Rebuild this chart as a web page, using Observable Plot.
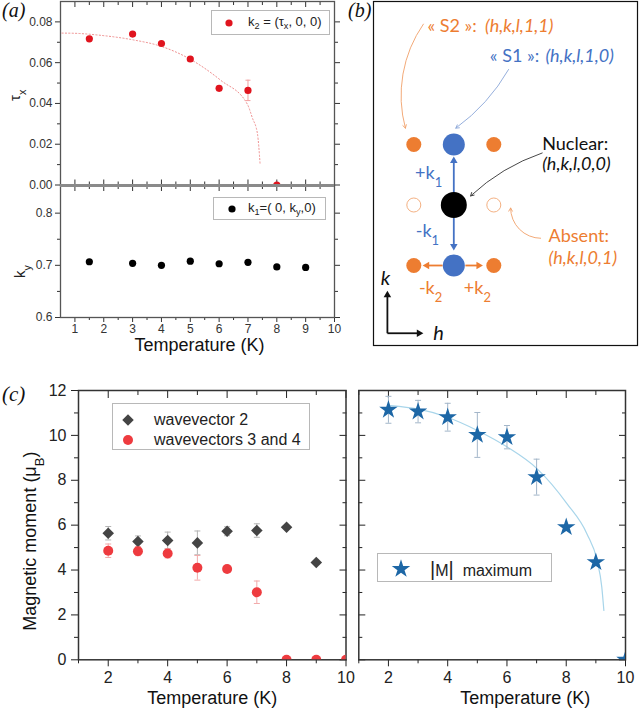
<!DOCTYPE html>
<html><head><meta charset="utf-8">
<script src="https://cdn.jsdelivr.net/npm/d3@7"></script>
<script src="https://cdn.jsdelivr.net/npm/@observablehq/plot@0.6"></script>
<style>
body{margin:0;background:#fff;}
#fig{position:relative;width:640px;height:714px;overflow:hidden;font-family:"Liberation Sans",Arial,sans-serif;color:#222;}
.panel{position:absolute;line-height:0;}
.plab{position:absolute;font-family:"Liberation Serif","Times New Roman",serif;font-style:italic;font-size:20px;line-height:1;color:#111;}
.legend{position:absolute;background:#fff;border:1px solid #b8b8b8;box-sizing:border-box;}
.legend .row{position:absolute;white-space:nowrap;line-height:1;transform:translateY(-50%);}
.legend svg{position:absolute;overflow:visible;}
</style></head>
<body><div id="fig"></div>
<script>
// ---------------- DATA ----------------
// (a) top: wavevector k2 component tau_x vs temperature
const tA = [1.5, 3, 4, 5, 6, 7, 8];
const tauX = [0.0717, 0.0740, 0.0694, 0.0618, 0.0474, 0.0464, 0];
const tauErr = [0.0012, 0.0010, 0.0010, 0.0010, 0.0012, 0.0050, 0];
const fitAT = [0.55, 1.0, 1.9, 3.05, 3.97, 5.01, 6.06, 6.98, 7.15, 7.33, 7.42];
const fitAV = [0.0745, 0.0744, 0.0734, 0.0711, 0.0681, 0.0616, 0.0513, 0.0396, 0.033, 0.025, 0.0103];
const tauTicks = [0, 0.02, 0.04, 0.06, 0.08];
const tauMinor = [0.01, 0.03, 0.05, 0.07];
const tauDomain = [0, 0.09];
// (a) bottom: k_y vs temperature
const tB = [1.5, 3, 4, 5, 6, 7, 8, 9];
const kY = [0.7069, 0.7038, 0.7000, 0.7080, 0.7030, 0.7058, 0.6970, 0.6960];
const kyTicks = [0.6, 0.7, 0.8];
const kyMinor = [0.65, 0.75];
const kyDomain = [0.6, 0.853];
const xDomA = [0.5, 10];
const xTicksA = [1, 2, 3, 4, 5, 6, 7, 8, 9, 10];
const xMinorA = [1.5, 2.5, 3.5, 4.5, 5.5, 6.5, 7.5, 8.5, 9.5];
// (c) left: magnetic moments
const tW2 = [2, 3, 4, 5, 6, 7, 8, 9];
const wv2 = [5.64, 5.27, 5.32, 5.21, 5.73, 5.76, 5.91, 4.34];
const wv2Err = [0.30, 0.25, 0.37, 0.53, 0.20, 0.30, 0.05, 0];
const tW34 = [2, 3, 4, 5, 6, 7, 8, 9, 10];
const wv34 = [4.86, 4.84, 4.74, 4.10, 4.05, 3.01, 0, 0, 0];
const wv34Err = [0.30, 0.20, 0.20, 0.55, 0.15, 0.50, 0, 0, 0];
// (c) right: |M| maximum
const tM = [2, 3, 4, 5, 6, 7, 8, 9, 10];
const mMax = [11.14, 11.06, 10.81, 10.02, 9.92, 8.14, 5.91, 4.35, 0];
const mErr = [0.60, 0.50, 0.62, 1.00, 0.52, 0.80, 0, 0, 0];
const fitCT = [2.08, 2.98, 3.99, 5.0, 6.01, 7.02, 8.03, 8.7, 9.04, 9.2, 9.27];
const fitCV = [11.33, 11.18, 10.81, 10.22, 9.48, 8.51, 6.95, 5.61, 4.43, 3.24, 2.2];
const mTicks = [0, 2, 4, 6, 8, 10, 12];
const mMinor = [1, 3, 5, 7, 9, 11];
const mDomain = [0, 12];
const xDomC = [1, 10];
const xTicksC = [2, 4, 6, 8, 10];
const xMinorC = [1, 3, 5, 7, 9];
// (b) reciprocal-space diagram (lattice units h, k)
const s2H = [-1, 1, -1, 1], s2K = [1, 1, -1, -1];
const s1H = [0, 0], s1K = [1, -1];
const nucH = [0], nucK = [0];
const absH = [-1, 1], absK = [0, 0];

// ---------------- HELPERS ----------------
const sans = '"Liberation Sans", Arial, sans-serif';
const blank = () => "";
const fig = document.getElementById("fig");
const capSym = {draw(ctx, size){ const w = Math.sqrt(size / Math.PI); ctx.moveTo(-w, 0); ctx.lineTo(w, 0); }};
const rows = (T, v, e) => T.map((t, i) => ({T: t, v: v[i], e: e ? e[i] : 0}));

function subify(svg){
  const mk = (s) => { const t = document.createElementNS("http://www.w3.org/2000/svg", "tspan"); t.textContent = s; return t; };
  svg.querySelectorAll("text").forEach(t => {
    const targets = t.querySelectorAll("tspan").length ? [...t.querySelectorAll("tspan")] : [t];
    targets.forEach(n => {
      const s = n.textContent;
      if (!s.includes("_{")) return;
      n.textContent = "";
      const re = /_\{([^}]*)\}/g; let last = 0, m;
      while ((m = re.exec(s))) {
        if (m.index > last) n.appendChild(mk(s.slice(last, m.index)));
        const sub = mk(m[1]); sub.setAttribute("baseline-shift", "sub"); sub.setAttribute("font-size", "72%");
        n.appendChild(sub);
        last = re.lastIndex;
      }
      if (last < s.length) n.appendChild(mk(s.slice(last)));
    });
  });
  return svg;
}
function place(node, left, top){
  const d = document.createElement("div"); d.className = "panel";
  d.style.left = left + "px"; d.style.top = top + "px";
  d.appendChild(node); fig.appendChild(d); return d;
}
function errMarks(data, stroke, capR){
  const r = data.filter(d => d.e > 0);
  return [
    Plot.ruleX(r, {x: "T", y1: d => d.v - d.e, y2: d => d.v + d.e, stroke, strokeWidth: 1}),
    Plot.dot(r, {x: "T", y: d => d.v + d.e, symbol: capSym, r: capR, stroke, strokeWidth: 1}),
    Plot.dot(r, {x: "T", y: d => d.v - d.e, symbol: capSym, r: capR, stroke, strokeWidth: 1})
  ];
}
function label(html, left, top, size){
  const d = document.createElement("div"); d.className = "plab";
  d.style.left = left + "px"; d.style.top = top + "px"; if (size) d.style.fontSize = size + "px";
  d.innerHTML = html; fig.appendChild(d);
}
function legend(left, top, w, h, entries, fontSize){
  const box = document.createElement("div"); box.className = "legend";
  Object.assign(box.style, {left: left + "px", top: top + "px", width: w + "px", height: h + "px"});
  entries.forEach(e => {
    const svg = document.createElementNS("http://www.w3.org/2000/svg", "svg");
    svg.setAttribute("width", 1); svg.setAttribute("height", 1);
    svg.style.left = e.sx + "px"; svg.style.top = e.sy + "px";
    const p = document.createElementNS("http://www.w3.org/2000/svg", "path");
    p.setAttribute("d", d3.symbol(e.type, e.size)()); p.setAttribute("fill", e.fill);
    svg.appendChild(p); box.appendChild(svg);
    const t = document.createElement("div"); t.className = "row";
    t.style.left = e.tx + "px"; t.style.top = e.sy + "px"; t.style.fontSize = fontSize + "px";
    t.innerHTML = e.html; box.appendChild(t);
  });
  fig.appendChild(box);
}

// ---------------- PANEL (a) TOP ----------------
const tauRows = rows(tA, tauX, tauErr);
const fitARows = rows(fitAT, fitAV);
const gA = "#555";
const plotA1 = Plot.plot({
  width: 345, height: 186, marginLeft: 60, marginRight: 11, marginTop: 1, marginBottom: 1.5,
  x: {domain: xDomA, label: null}, y: {domain: tauDomain, label: null},
  style: {fontFamily: sans, fontSize: "12px", color: "#333", background: "transparent", overflow: "visible"},
  marks: [
    Plot.axisY({anchor: "left", ticks: tauTicks, tickSize: 5, tickPadding: 3, tickFormat: d3.format(".2f"), label: null}),
    Plot.axisY({anchor: "left", ticks: tauMinor, tickSize: 3, tickFormat: blank, label: null}),
    Plot.axisY({anchor: "right", ticks: tauTicks, tickSize: 5, tickFormat: blank, label: null}),
    Plot.axisY({anchor: "right", ticks: tauMinor, tickSize: 3, tickFormat: blank, label: null}),
    Plot.axisX({anchor: "top", ticks: xTicksA, tickSize: -5, tickFormat: blank, label: null}),
    Plot.axisX({anchor: "top", ticks: xMinorA, tickSize: -3, tickFormat: blank, label: null}),
    Plot.axisX({anchor: "bottom", ticks: xTicksA, tickSize: -5, tickFormat: blank, label: null}),
    Plot.axisX({anchor: "bottom", ticks: xMinorA, tickSize: -3, tickFormat: blank, label: null}),
    Plot.frame({stroke: gA, strokeWidth: 1.3}),
    Plot.line(fitARows, {x: "T", y: "v", stroke: "#ef8f8f", strokeWidth: 1, strokeDasharray: "1.2 2.2", curve: "monotone-x"}),
    ...errMarks(tauRows, "#f2a0a0", 2.5),
    Plot.dot(tauRows, {x: "T", y: "v", r: 3.6, fill: "#e0141e", clip: true}),
    Plot.text(["τ_{x}"], {frameAnchor: "left", textAnchor: "middle", dx: -45, dy: 2, rotate: -90, fontSize: 15, fill: "#222"})
  ]
});
place(subify(plotA1), 0, 0);

// ---------------- PANEL (a) BOTTOM ----------------
const kyRows = rows(tB, kY);
const plotA2 = Plot.plot({
  width: 345, height: 186, marginLeft: 60, marginRight: 11, marginTop: 1, marginBottom: 53,
  x: {domain: xDomA, label: null}, y: {domain: kyDomain, label: null},
  style: {fontFamily: sans, fontSize: "12px", color: "#333", background: "transparent", overflow: "visible"},
  marks: [
    Plot.axisY({anchor: "left", ticks: kyTicks, tickSize: 5, tickPadding: 3, tickFormat: d3.format(".1f"), label: null}),
    Plot.axisY({anchor: "left", ticks: kyMinor, tickSize: 3, tickFormat: blank, label: null}),
    Plot.axisY({anchor: "right", ticks: kyTicks, tickSize: 5, tickFormat: blank, label: null}),
    Plot.axisY({anchor: "right", ticks: kyMinor, tickSize: 3, tickFormat: blank, label: null}),
    Plot.axisX({anchor: "top", ticks: xTicksA, tickSize: -5, tickFormat: blank, label: null}),
    Plot.axisX({anchor: "top", ticks: xMinorA, tickSize: -3, tickFormat: blank, label: null}),
    Plot.axisX({anchor: "bottom", ticks: xTicksA, tickSize: 5, tickPadding: 2, label: null}),
    Plot.axisX({anchor: "bottom", ticks: xMinorA, tickSize: 3, tickFormat: blank, label: null}),
    Plot.frame({stroke: gA, strokeWidth: 1.3}),
    Plot.ruleY([kyDomain[1]], {stroke: "#8a8a8a", strokeWidth: 3}),
    Plot.dot(kyRows, {x: "T", y: "v", r: 3.6, fill: "#000"}),
    Plot.text(["k_{y}"], {frameAnchor: "left", textAnchor: "middle", dx: -40, dy: 20, rotate: -90, fontSize: 15, fill: "#222"}),
    Plot.text(["Temperature (K)"], {frameAnchor: "bottom", dy: 33, dx: 2, fontSize: 18, fill: "#111"})
  ]
});
place(subify(plotA2), 0, 184);

// ---------------- PANEL (c) LEFT ----------------
const w2Rows = rows(tW2, wv2, wv2Err);
const w34Rows = rows(tW34, wv34, wv34Err);
const gC = "#333";
const plotC1 = Plot.plot({
  width: 350, height: 334, marginLeft: 78, marginRight: 4.5, marginTop: 10, marginBottom: 54.7,
  x: {domain: xDomC, label: null}, y: {domain: mDomain, label: null},
  style: {fontFamily: sans, fontSize: "16px", color: "#222", background: "transparent", overflow: "visible"},
  marks: [
    Plot.axisY({anchor: "left", ticks: mTicks, tickSize: 7, tickPadding: 5, label: null}),
    Plot.axisY({anchor: "left", ticks: mMinor, tickSize: 4, tickFormat: blank, label: null}),
    Plot.axisY({anchor: "right", ticks: mTicks, tickSize: -7, tickFormat: blank, label: null}),
    Plot.axisY({anchor: "right", ticks: mMinor, tickSize: -4, tickFormat: blank, label: null}),
    Plot.axisX({anchor: "top", ticks: xTicksC, tickSize: -7, tickFormat: blank, label: null}),
    Plot.axisX({anchor: "top", ticks: xMinorC, tickSize: -4, tickFormat: blank, label: null}),
    Plot.axisX({anchor: "bottom", ticks: xTicksC, tickSize: 7, tickPadding: 5, label: null}),
    Plot.axisX({anchor: "bottom", ticks: xMinorC, tickSize: 4, tickFormat: blank, label: null}),
    Plot.frame({stroke: gC, strokeWidth: 1.5}),
    ...errMarks(w2Rows, "#b4b4b4", 3),
    ...errMarks(w34Rows, "#f2a9a9", 3),
    Plot.dot(w2Rows, {x: "T", y: "v", symbol: "diamond2", r: 5.2, fill: "#444", clip: true}),
    Plot.dot(w34Rows, {x: "T", y: "v", r: 5, fill: "#ee3b3f", clip: true}),
    Plot.text(["Magnetic moment (μ_{B})"], {frameAnchor: "left", textAnchor: "middle", dx: -48, dy: 16, rotate: -90, fontSize: 18, fill: "#111"}),
    Plot.text(["Temperature (K)"], {frameAnchor: "bottom", dy: 44, fontSize: 18, fill: "#111"})
  ]
});
place(subify(plotC1), 0, 380);

// ---------------- PANEL (c) RIGHT ----------------
const mRows = rows(tM, mMax, mErr);
const fitCRows = rows(fitCT, fitCV);
const plotC2 = Plot.plot({
  width: 290, height: 334, marginLeft: 8.3, marginRight: 15, marginTop: 10, marginBottom: 54.7,
  x: {domain: xDomC, label: null}, y: {domain: mDomain, label: null},
  style: {fontFamily: sans, fontSize: "16px", color: "#222", background: "transparent", overflow: "visible"},
  marks: [
    Plot.axisY({anchor: "left", ticks: mTicks, tickSize: -7, tickFormat: blank, label: null}),
    Plot.axisY({anchor: "left", ticks: mMinor, tickSize: -4, tickFormat: blank, label: null}),
    Plot.axisY({anchor: "right", ticks: mTicks, tickSize: -7, tickFormat: blank, label: null}),
    Plot.axisY({anchor: "right", ticks: mMinor, tickSize: -4, tickFormat: blank, label: null}),
    Plot.axisX({anchor: "top", ticks: xTicksC, tickSize: -7, tickFormat: blank, label: null}),
    Plot.axisX({anchor: "top", ticks: xMinorC, tickSize: -4, tickFormat: blank, label: null}),
    Plot.axisX({anchor: "bottom", ticks: xTicksC, tickSize: 7, tickPadding: 5, label: null}),
    Plot.axisX({anchor: "bottom", ticks: xMinorC, tickSize: 4, tickFormat: blank, label: null}),
    Plot.frame({stroke: gC, strokeWidth: 1.5}),
    Plot.line(fitCRows, {x: "T", y: "v", stroke: "#a8d5ea", strokeWidth: 1.2, curve: "monotone-x"}),
    ...errMarks(mRows, "#a3b6c9", 3),
    Plot.dot(mRows, {x: "T", y: "v", symbol: "star", r: 5.8, fill: "#1d67a6", clip: true}),
    Plot.text(["Temperature (K)"], {frameAnchor: "bottom", dy: 44, dx: 33, fontSize: 18, fill: "#111"})
  ]
});
place(subify(plotC2), 350, 380);

// ---------------- PANEL (b) DIAGRAM ----------------
const orange = "#ed7d31", blue = "#4472c4", lorange = "#f0a06a", lblue = "#8aa6d8";
const pts = (H, K) => H.map((h, i) => ({h, k: K[i]}));
// straight vectors: shaft from (x1,y1) to head centre (x2,y2); head orientation rot (deg)
const straightArrows = [
  {x1: 0, y1: 0.2, x2: 0, y2: 0.73, rot: 0, c: blue},
  {x1: 0, y1: -0.21, x2: 0, y2: -0.68, rot: 180, c: blue},
  {x1: -0.28, y1: -1, x2: -0.67, y2: -1, rot: 270, c: orange},
  {x1: 0.29, y1: -1, x2: 0.62, y2: -1, rot: 90, c: orange},
  {x1: -1.66, y1: -2.12, x2: -1.66, y2: -1.49, rot: 0, c: "#111"},
  {x1: -1.66, y1: -2.12, x2: -0.87, y2: -2.12, rot: 90, c: "#111"}
];
const curvedArrows = [
  {x1: -0.76, y1: 2.99, x2: -1.21, y2: 1.27, c: lorange, b: -25},
  {x1: 1.37, y1: 2.24, x2: 0.05, y2: 1.27, c: lblue, b: 12},
  {x1: 2.21, y1: 0.86, x2: 0.42, y2: 0.15, c: "#333", b: -12},
  {x1: 2.17, y1: -0.55, x2: 1.42, y2: -0.05, c: lorange, b: 45}
];
const textNormal = [
  {t: "« S2 »:", h: -0.66, k: 2.96, c: orange},
  {t: "« S1 »:", h: 0.9, k: 2.46, c: blue},
  {t: "Nuclear:", h: 2.21, k: 1.01, c: "#111"},
  {t: "Absent:", h: 2.37, k: -0.51, c: orange}
];
const textItalic = [
  {t: "(h,k,l,1,1)", h: 0.78, k: 2.96, c: orange},
  {t: "(h,k,l,1,0)", h: 2.29, k: 2.46, c: blue},
  {t: "(h,k,l,0,0)", h: 2.21, k: 0.68, c: "#111"},
  {t: "(h,k,l,0,1)", h: 2.37, k: -0.88, c: orange}
];
const vecLabels = [
  {t: "+k_{1}", h: -0.63, k: 0.53, c: blue},
  {t: "-k_{1}", h: -0.66, k: -0.43, c: blue},
  {t: "-k_{2}", h: -0.58, k: -1.37, c: orange},
  {t: "+k_{2}", h: 0.59, k: -1.37, c: orange}
];
const axisLetters = [{t: "k", h: -1.71, k: -1.21}, {t: "h", h: -0.38, k: -2.13}];
const diag = Plot.plot({
  width: 266, height: 346, marginLeft: 1, marginRight: 1, marginTop: 1, marginBottom: 1,
  x: {type: "linear", domain: [-1, 1], range: [41.3, 121.3], axis: null},
  y: {type: "linear", domain: [-1, 1], range: [265, 144], axis: null},
  style: {fontFamily: "Lato, 'Open Sans', sans-serif", fontSize: "18px", background: "transparent", overflow: "visible"},
  marks: [
    Plot.frame({stroke: "#111", strokeWidth: 1.2}),
    ...curvedArrows.map(d => Plot.arrow([d], {x1: "x1", y1: "y1", x2: "x2", y2: "y2", stroke: d.c, bend: d.b, strokeWidth: 0.9, headLength: 6})),
    Plot.link(straightArrows, {x1: "x1", y1: "y1", x2: "x2", y2: "y2", stroke: "c", strokeWidth: 1.8}),
    Plot.dot(straightArrows, {x: "x2", y: "y2", symbol: "triangle2", r: 3.6, fill: "c", rotate: "rot"}),
    Plot.dot(pts(absH, absK), {x: "h", y: "k", r: 7, stroke: "#f4b183", strokeWidth: 1, fill: "#fff"}),
    Plot.dot(pts(s2H, s2K), {x: "h", y: "k", r: 7.5, fill: orange}),
    Plot.dot(pts(s1H, s1K), {x: "h", y: "k", r: 11, fill: blue}),
    Plot.dot(pts(nucH, nucK), {x: "h", y: "k", r: 13, fill: "#000"}),
    Plot.text(textNormal, {x: "h", y: "k", text: "t", fill: "c", textAnchor: "start"}),
    Plot.text(textItalic, {x: "h", y: "k", text: "t", fill: "c", textAnchor: "start", fontStyle: "italic"}),
    Plot.text(vecLabels, {x: "h", y: "k", text: "t", fill: "c"}),
    Plot.text(axisLetters, {x: "h", y: "k", text: "t", fill: "#111", fontStyle: "italic", fontSize: 20})
  ]
});
place(subify(diag), 372, 0);

// ---------------- LEGENDS ----------------
legend(211, 10, 119, 25, [
  {type: d3.symbolCircle, size: Math.PI * 3.6 * 3.6, fill: "#e0141e", sx: 17, sy: 12, tx: 36, html: "k<sub style='font-size:70%'>2</sub> = (τ<sub style='font-size:70%'>x</sub>, 0, 0)"}
], 13);
legend(213, 197, 113, 23, [
  {type: d3.symbolCircle, size: Math.PI * 3.6 * 3.6, fill: "#000", sx: 18, sy: 10.5, tx: 34, html: "k<sub style='font-size:70%'>1</sub>=( 0, k<sub style='font-size:70%'>y</sub>,0)"}
], 13);
legend(112, 403, 198, 47, [
  {type: d3.symbolDiamond2, size: Math.PI * 5.2 * 5.2, fill: "#444", sx: 15, sy: 16, tx: 41, html: "wavevector 2"},
  {type: d3.symbolCircle, size: Math.PI * 25, fill: "#ee3b3f", sx: 15, sy: 36, tx: 41, html: "wavevectors 3 and 4"}
], 16);
legend(377, 553, 175, 29, [
  {type: d3.symbolStar, size: Math.PI * 5.8 * 5.8, fill: "#1d67a6", sx: 23, sy: 15, tx: 52, html: "<span style='font-size:20px'>|</span>M<span style='font-size:20px'>|</span>&nbsp; maximum"}
], 16);

// ---------------- PANEL LABELS ----------------
label("(a)", 2, 0, 20);
label("(b)", 348, 0, 20);
label("(c)", 2, 384, 21);
</script>
</body></html>
